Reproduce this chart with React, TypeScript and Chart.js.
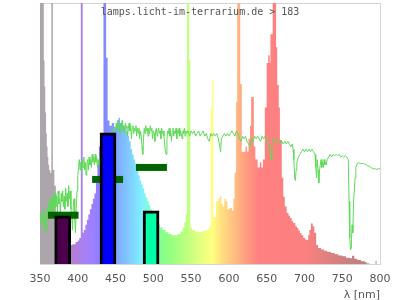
import { useEffect, useRef } from "react";
import { Chart, registerables } from "chart.js";

Chart.register(...registerables);

// Lamp spectrum: [wavelength nm, relative intensity], each value holds until the next wavelength
const lampSpectrum: [number, number][] = [
  [350, 110], [354, 100], [355, 78], [356, 68], [357, 58], [358, 50], [359, 45], [360, 41],
  [361, 38], [362, 36], [363.5, 35], [365, 110], [367, 36], [369, 30], [371, 20], [375, 12],
  [380, 9], [385, 8], [389, 7.3], [393, 7.6], [397, 8.4], [400, 9], [402, 10], [404, 110],
  [406.5, 12], [408, 13], [410, 15], [412, 17], [414, 19], [416, 21], [418, 23], [420, 25],
  [422, 27], [424, 31], [426, 38], [428, 45], [430, 50], [434, 110], [437.5, 79], [439.5, 55],
  [442, 53], [445, 54], [448, 52], [450, 53], [452, 55], [454, 56], [456, 54], [458, 55],
  [460, 53], [462, 52], [464, 51], [466, 49], [468, 47], [470, 44], [472, 42], [474, 40],
  [476, 38.5], [478, 36], [480, 34], [482, 32], [484, 30.5], [486, 29], [488, 27], [490, 25.5],
  [492, 24], [494, 22.5], [496, 21], [498, 19.5], [500, 18], [503, 16.5], [506, 15], [509, 14],
  [512, 13], [516, 12.2], [520, 11.5], [524, 11], [528, 11], [532, 11.5], [536, 12.5], [539, 14],
  [541, 16], [543, 19], [544.5, 110], [547.5, 78], [549, 14], [551, 13], [555, 12.5], [560, 12.3],
  [565, 12.6], [569, 13], [572, 13.5], [574, 14.5], [576, 60], [577.5, 70.5], [579.5, 18], [581, 18],
  [583, 24], [586, 25], [588, 26], [590, 23], [592, 22], [594, 25], [596, 24], [598, 21],
  [601, 21.5], [604, 20.5], [606, 25], [607.5, 35], [609.5, 62], [611, 110], [615, 69], [617, 43],
  [620, 43], [622, 45], [624, 43], [626, 48], [628, 53], [629.5, 64], [633, 45], [635, 40],
  [638, 37], [641, 39], [643, 37], [645, 40], [647.5, 60], [650, 77], [652, 80], [654, 77],
  [655, 88], [658, 110], [662.5, 83], [664, 68.6], [666, 60], [667.5, 47.5], [670, 33], [672, 25.8],
  [674, 22], [676.5, 19.5], [679, 18.5], [681, 17.6], [683, 16.5], [685, 15.7], [688, 14.5], [690, 13.8],
  [692, 12.8], [694, 11.9], [696, 11], [698.5, 10], [701, 9.4], [703, 9.2], [705, 11], [706.5, 13],
  [708.5, 15.5], [711, 14.5], [713, 12], [715.5, 7.3], [718, 6.1], [722, 5.6], [726, 5.1], [730, 4.7],
  [735, 4.2], [740, 3.7], [745, 3.3], [750, 3.0], [755, 2.4], [760, 2.2], [763, 3.2], [766, 2.0],
  [770, 1.5], [775, 1.1], [780, 0.7], [783, 0.3], [786, 0], [794, 1.2], [795.5, 0], [800, 0],
];

// Reference daylight curve (green line)
const daylightCurve: [number, number][] = [
  [351, 19.5], [352, 14], [353, 20], [354, 16], [355, 21], [356, 13], [357, 18], [358, 12],
  [359, 19], [360, 22], [361, 17], [362, 24], [363, 18], [364, 25], [365, 20], [366, 26],
  [367, 21], [368, 25], [369, 19], [370, 27], [371, 22], [372, 26], [373, 20], [374, 28],
  [375, 23], [376, 25], [377, 19], [378, 27], [379, 24], [380, 28], [381, 22], [382, 26],
  [383, 21], [384, 29], [385, 24], [386, 27], [387, 22], [388, 30], [389, 25], [390, 28],
  [391, 21], [392, 19], [393, 13], [394, 22], [395, 25], [396, 17], [397, 12], [398, 22],
  [399, 28], [400, 34], [401, 37], [402, 40], [403, 36], [404, 39], [405, 35], [406, 40],
  [407, 37], [408, 41], [409, 36], [410, 39], [411, 34], [412, 38], [413, 40], [414, 36],
  [415, 41], [416, 38], [417, 40], [418, 37], [419, 42], [420, 39], [421, 41], [422, 38],
  [423, 42], [424, 39], [425, 41], [426, 37], [427, 40], [428, 38], [432, 44], [438, 48],
  [444, 50], [449, 52.5], [450, 51], [451, 54], [452, 52], [453, 55], [454, 51], [455, 53],
  [456, 50], [457, 54], [458, 52], [459, 55], [460, 51], [461, 53], [462, 50], [463, 54],
  [464, 52], [465, 53], [466, 49], [467, 52], [468, 54], [469, 51], [470, 53], [471, 48],
  [472, 52], [473, 53], [474, 50], [475, 52], [476, 51], [477, 53], [478, 49], [479, 52],
  [480, 50], [481, 52], [482, 48], [483, 51], [484, 49], [485, 45], [486, 42], [487, 48],
  [488, 52], [489, 50], [490, 53], [491, 51], [492, 52], [493, 49], [494, 52], [495, 50],
  [496, 53], [497, 51], [498, 52], [499, 48], [500, 51], [501, 50], [502, 47], [503, 51],
  [504, 52], [505, 49], [506, 51], [507, 52], [508, 50], [509, 51], [510, 48], [511, 52],
  [512, 50], [513, 51], [514, 49], [515, 46], [516, 43], [517, 42], [518, 48], [519, 51],
  [520, 50], [521, 52], [522, 49], [523, 51], [524, 47], [525, 50], [526, 52], [527, 49],
  [528, 51], [529, 50], [530, 52], [531, 48], [532, 51], [533, 50], [534, 52], [535, 49],
  [536, 51], [537, 50], [538, 48], [539, 51], [540, 50], [541, 52], [542, 49], [543, 51],
  [544, 50], [546, 51], [548, 49], [550, 51], [552, 50], [554, 51], [556, 49], [558, 50],
  [560, 51], [562, 49], [564, 50], [566, 51], [568, 49], [570, 50], [572, 48], [574, 47],
  [576, 50], [578, 49], [580, 50], [582, 49], [584, 50], [586, 48], [588, 45], [589, 43],
  [590, 48], [592, 49], [594, 50], [596, 49], [598, 50], [600, 49], [602, 50], [604, 51],
  [606, 50], [608, 49], [610, 51], [612, 50], [614, 48], [616, 47], [618, 49], [620, 48],
  [622, 49], [624, 47], [626, 46], [628, 45], [630, 48], [632, 47], [634, 49], [636, 48],
  [638, 49], [640, 48], [642, 47], [644, 49], [646, 48], [648, 49], [650, 48], [652, 46],
  [654, 44], [655, 41], [656, 40], [657, 45], [658, 47], [660, 48], [662, 47], [664, 48],
  [666, 47], [668, 46], [670, 47], [672, 46], [674, 47], [676, 46], [678, 47], [680, 46],
  [682, 45], [684, 46], [685, 44], [686, 40], [687, 33], [688, 32], [689, 36], [690, 39],
  [692, 41], [694, 42], [696, 43], [698, 44], [700, 43], [702, 44], [704, 43], [706, 44],
  [708, 43], [710, 44], [712, 43], [714, 42], [715, 37], [716, 33], [717, 40], [718, 36],
  [719, 31], [720, 36], [721, 38], [722, 40], [723, 37], [724, 39], [725, 37], [726, 40],
  [727, 38], [728, 39], [729, 38], [730, 40], [732, 41], [734, 42], [736, 41], [738, 42],
  [740, 41.5], [742, 42], [744, 41.5], [746, 42], [748, 41], [750, 41.5], [752, 41], [754, 41.5],
  [756, 41], [758, 40], [759, 24], [760, 10], [761, 5.4], [762, 6], [763, 15], [764, 12],
  [765, 24], [766, 28], [767, 33], [768, 37], [770, 38.6], [772, 38.8], [774, 38.6], [776, 38.4],
  [778, 38.6], [780, 38.2], [782, 38], [784, 37.5], [786, 37.5], [788, 37], [790, 36.6], [792, 36.4],
  [794, 36.5], [796, 36.2], [798, 36.6], [800, 36.4],
];

// Band bars
const barCenters = [380, 440, 497];
const barValues = [18.5, 50.3, 20.4];
const barColors = ["#4b004b", "#0000ff", "#00ffa6"];

// Dark green range markers
const markerStarts = [360.5, 419, 477];
const markerEnds = [401, 460, 518];
const markerLevels = [18.7, 32.4, 37];

const xTicks = [350, 400, 450, 500, 550, 600, 650, 700, 750, 800];
const titleText = "lamps.licht-im-terrarium.de > 183";
const axisTitle = "λ [nm]";

// Wavelength colour stops for the spectrum fill
const colorStops: [number, string][] = [
  [350, "#aca6ac"], [378, "#aca6ac"], [382, "#b480cc"], [392, "#b47fd0"], [405, "#aa80ee"],
  [418, "#a080ff"], [430, "#8a80ff"], [440, "#8090ff"], [455, "#80b0ff"], [470, "#80d0ff"],
  [485, "#80f0ff"], [495, "#80ffd0"], [505, "#80ff98"], [520, "#90ff80"], [545, "#c0ff80"],
  [565, "#e8ff80"], [578, "#ffff80"], [590, "#ffe080"], [600, "#ffcc80"], [612, "#ffb480"],
  [625, "#ff9880"], [640, "#ff8080"], [700, "#fc8080"], [730, "#e08080"], [760, "#c88080"],
  [781, "#b88080"], [782, "#aca6ac"], [800, "#aca6ac"],
];

export default function App() {
  const ref = useRef<HTMLCanvasElement | null>(null);

  useEffect(() => {
    document.body.style.margin = "0";
    const canvas = ref.current;
    if (!canvas) return;

    const xMin = 350;
    const xMax = 800;

    const spectrumFill = (ctx: any) => {
      const chart = ctx.chart;
      const area = chart.chartArea;
      if (!area) return "#aaa";
      const g = chart.ctx.createLinearGradient(area.left, 0, area.right, 0);
      colorStops.forEach(([wl, c]) => g.addColorStop((wl - xMin) / (xMax - xMin), c));
      return g;
    };

    const framePlugin = {
      id: "frame",
      beforeDatasetsDraw(chart: any) {
        const { ctx, chartArea: a } = chart;
        ctx.save();
        ctx.strokeStyle = "#d6d6d6";
        ctx.lineWidth = 1;
        ctx.strokeRect(a.left + 0.5, a.top + 0.5, a.right - a.left, a.bottom - a.top);
        ctx.restore();
      },
      afterDatasetsDraw(chart: any) {
        const { ctx } = chart;
        ctx.save();
        ctx.font = '10px "DejaVu Sans Mono"';
        ctx.fillStyle = "#555";
        ctx.textAlign = "center";
        ctx.textBaseline = "alphabetic";
        ctx.fillText(titleText, 200, 15);
        ctx.restore();
      },
    };

    const markerSets = markerStarts.map((s, i) => ({
      type: "line" as const,
      data: [
        { x: s, y: markerLevels[i] },
        { x: markerEnds[i], y: markerLevels[i] },
      ],
      borderColor: "#006400",
      borderWidth: 7,
      pointRadius: 0,
      fill: false,
      order: 2,
    }));

    const chart = new Chart(canvas, {
      type: "line",
      data: {
        datasets: [
          {
            type: "bar",
            data: barCenters.map((x, i) => ({ x, y: barValues[i] })),
            backgroundColor: barColors,
            borderColor: "#000",
            borderWidth: 3,
            borderSkipped: "start",
            barThickness: 16,
            order: 1,
          } as any,
          ...markerSets,
          {
            type: "line",
            data: daylightCurve.map(([x, y]) => ({ x, y })),
            borderColor: "#5fd957",
            borderWidth: 1,
            pointRadius: 0,
            fill: false,
            order: 3,
          },
          {
            type: "line",
            data: lampSpectrum.map(([x, y]) => ({ x, y })),
            borderWidth: 0,
            borderColor: "rgba(0,0,0,0)",
            backgroundColor: spectrumFill,
            pointRadius: 0,
            stepped: true,
            fill: "origin",
            order: 4,
          },
        ],
      },
      options: {
        animation: false,
        responsive: false,
        events: [],
        layout: { padding: { left: 40, right: 20, top: 3, bottom: 0 } },
        plugins: { legend: { display: false }, tooltip: { enabled: false }, title: { display: false } },
        scales: {
          x: {
            type: "linear",
            min: xMin,
            max: xMax,
            offset: false,
            grid: { display: false },
            border: { display: false },
            afterBuildTicks: (scale: any) => {
              scale.ticks = xTicks.map((v) => ({ value: v }));
            },
            afterFit: (scale: any) => {
              scale.height = 36;
            },
            ticks: {
              color: "#555",
              font: { family: '"DejaVu Sans"', size: 11 },
              padding: 1,
              maxRotation: 0,
              autoSkip: false,
            },
            title: {
              display: true,
              text: axisTitle,
              align: "end",
              color: "#555",
              font: { family: '"DejaVu Sans"', size: 11 },
              padding: { top: 0, bottom: -2 },
            },
          },
          y: {
            display: false,
            min: 0,
            max: 100,
          },
        },
      } as any,
      plugins: [framePlugin],
    });

    return () => chart.destroy();
  }, []);

  return (
    <div style={{ width: 400, height: 300 }}>
      <canvas ref={ref} width={400} height={300} />
    </div>
  );
}
